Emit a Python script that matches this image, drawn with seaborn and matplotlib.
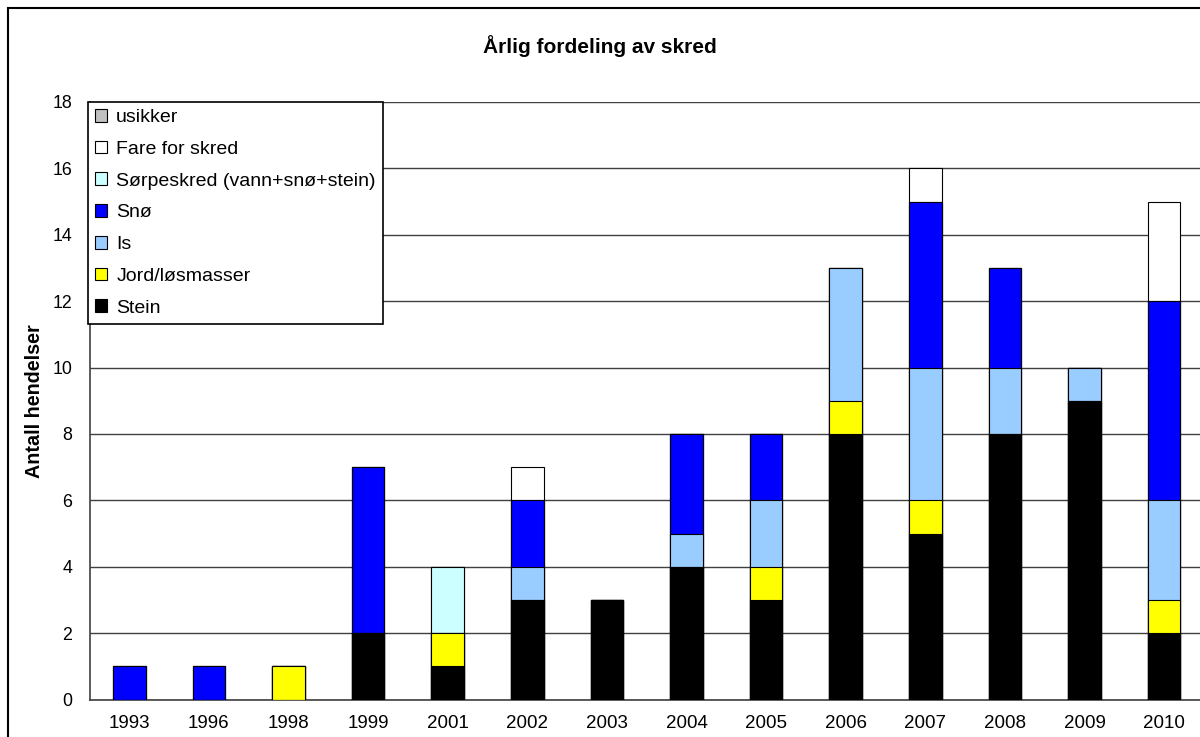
import matplotlib
matplotlib.use("Agg")
import matplotlib.pyplot as plt
from matplotlib.patches import Patch, Rectangle
import numpy as np
import pandas as pd
import seaborn as sns

years = ["1993", "1996", "1998", "1999", "2001", "2002", "2003",
         "2004", "2005", "2006", "2007", "2008", "2009", "2010"]
stein = [0, 0, 0, 2, 1, 3, 3, 4, 3, 8, 5, 8, 9, 2]
jord = [0, 0, 1, 0, 1, 0, 0, 0, 1, 1, 1, 0, 0, 1]
is_ = [0, 0, 0, 0, 0, 1, 0, 1, 2, 4, 4, 2, 1, 3]
sno = [1, 1, 0, 5, 0, 2, 0, 3, 2, 0, 5, 3, 0, 6]
sorpe = [0, 0, 0, 0, 2, 0, 0, 0, 0, 0, 0, 0, 0, 0]
fare = [0, 0, 0, 0, 0, 1, 0, 0, 0, 0, 1, 0, 0, 3]
usikker = [0, 0, 0, 0, 0, 0, 0, 0, 0, 0, 0, 0, 0, 0]

series_names = ["Stein", "Jord/løsmasser", "Is", "Snø",
                "Sørpeskred (vann+snø+stein)", "Fare for skred", "usikker"]
series_vals = [stein, jord, is_, sno, sorpe, fare, usikker]
series_colors = ["#000000", "#FFFF00", "#99CCFF", "#0000FF",
                 "#CCFFFF", "#FFFFFF", "#C0C0C0"]

sns.set_theme(style="white")
plt.rcParams["font.family"] = ["Liberation Sans", "DejaVu Sans"]
plt.rcParams["text.color"] = "black"
plt.rcParams["xtick.color"] = "black"
plt.rcParams["ytick.color"] = "black"
plt.rcParams["axes.labelcolor"] = "black"

fig = plt.figure(figsize=(12, 7.37), dpi=100)
ax = fig.add_axes([89.5/1200, 1-699.5/737, 1114.4/1200, 597.5/737])

cum = np.cumsum(np.array(series_vals), axis=0)
# draw from top layer down so lower layers overlay
for i in range(len(series_names)-1, -1, -1):
    if i > 0 and np.all(np.array(series_vals[i]) == 0):
        continue
    df = pd.DataFrame({"year": years, "value": cum[i]})
    sns.barplot(data=df, x="year", y="value", order=years, color=series_colors[i],
                saturation=1, width=0.41, edgecolor="black", linewidth=0.8,
                ax=ax, zorder=3)

ax.set_xlim(-0.5, len(years)-0.5)
ax.set_ylim(0, 18)
ax.set_yticks(range(0, 19, 2))
ax.set_xlabel("")
ax.set_ylabel("")
ax.grid(axis="y", color="#404040", linewidth=1, zorder=0)
ax.set_axisbelow(True)
ax.set_xticks(np.arange(-0.5, len(years), 1.0), minor=True)
ax.tick_params(axis="x", which="major", length=0, labelsize=13.5, pad=11)
ax.tick_params(axis="x", which="minor", length=5, width=1, color="#404040", direction="out")
ax.tick_params(axis="y", length=6, width=1, color="#404040", direction="out",
               labelsize=12.8, pad=6.5)
for s in ["top", "right"]:
    ax.spines[s].set_visible(False)
for s in ["left", "bottom"]:
    ax.spines[s].set_color("#404040")
    ax.spines[s].set_linewidth(1.2)

handles = [Patch(facecolor=series_colors[i], edgecolor="black", linewidth=0.8,
                 label=series_names[i]) for i in range(len(series_names)-1, -1, -1)]
leg = ax.legend(handles=handles, loc="upper left", bbox_to_anchor=(-0.001, 1.0),
                borderaxespad=0, fancybox=False, framealpha=1, edgecolor="black",
                fontsize=14, handlelength=0.62, handleheight=0.62,
                handletextpad=0.45, labelspacing=0.75, borderpad=0.36)
leg.get_frame().set_linewidth(1.2)
leg.set_zorder(5)

fig.text(0.5, 1-46/737, "Årlig fordeling av skred", ha="center", va="center",
         fontsize=15, fontweight="bold")
fig.text(35/1200, 1-401/737, "Antall hendelser", ha="center", va="center",
         rotation=90, fontsize=14.2, fontweight="bold")

fig.patches.append(Rectangle((8/1200, -0.2), 1.2, 1-8/737+0.2, transform=fig.transFigure,
                             fill=False, edgecolor="black", linewidth=1.5, zorder=10))

fig.savefig("out.png", dpi=100)
